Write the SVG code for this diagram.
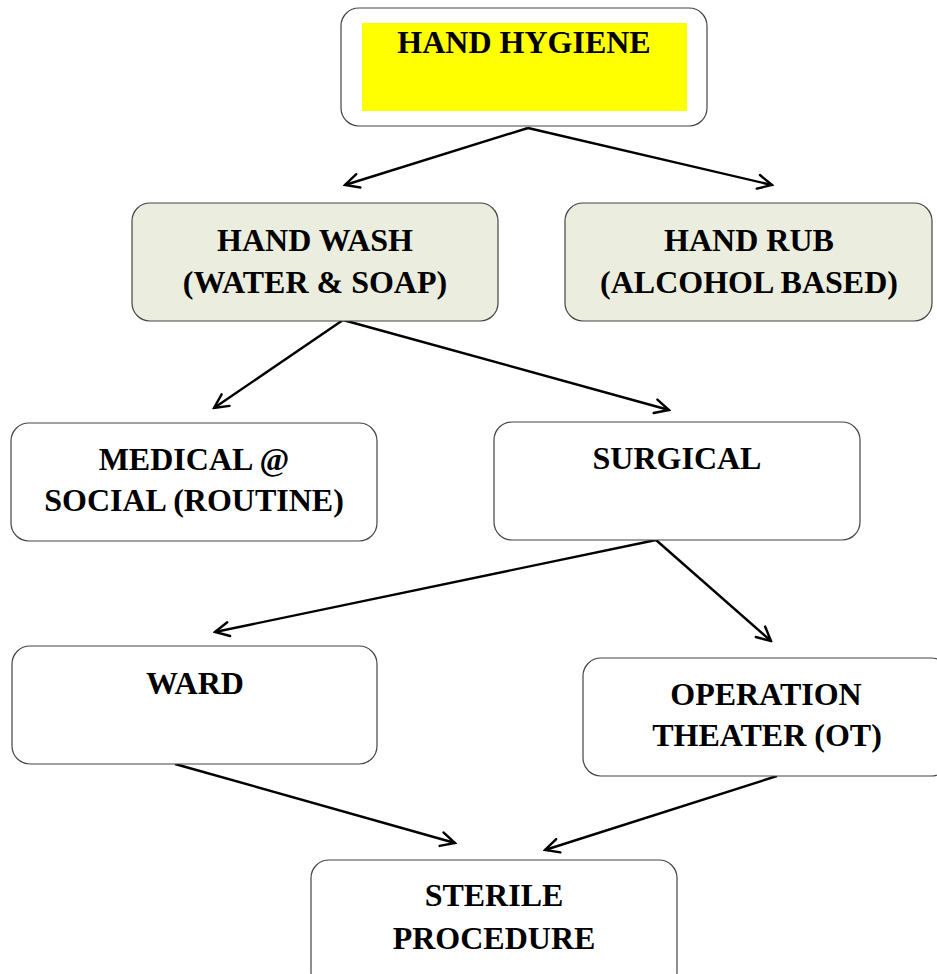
<svg xmlns="http://www.w3.org/2000/svg" width="937" height="974" viewBox="0 0 937 974">
<defs>
<style>
.box{fill:#ffffff;stroke:#444444;stroke-width:1.2}
.green{fill:#ebeedf}
.t{font-family:"Liberation Serif","Times New Roman",serif;font-weight:bold;font-size:32px;fill:#000;text-anchor:middle}
.c{stroke:#000;stroke-width:2.4;fill:none}
</style>
<marker id="ah" markerUnits="userSpaceOnUse" markerWidth="18" markerHeight="18" viewBox="0 0 18 18" refX="16" refY="9" orient="auto">
<path d="M2,2 L16,9 L2,16" fill="none" stroke="#000" stroke-width="2.4" stroke-linecap="round" stroke-linejoin="miter"/>
</marker>
</defs>
<rect width="937" height="974" fill="#ffffff"/>
<g id="connectors">
<line class="c" x1="528" y1="128" x2="345" y2="185" marker-end="url(#ah)"/>
<line class="c" x1="528" y1="128" x2="772" y2="185" marker-end="url(#ah)"/>
<line class="c" x1="343" y1="320" x2="214" y2="408" marker-end="url(#ah)"/>
<line class="c" x1="343" y1="320" x2="669" y2="410" marker-end="url(#ah)"/>
<line class="c" x1="656" y1="540" x2="215" y2="632" marker-end="url(#ah)"/>
<line class="c" x1="656" y1="540" x2="771" y2="641" marker-end="url(#ah)"/>
<line class="c" x1="175" y1="764" x2="455" y2="843" marker-end="url(#ah)"/>
<line class="c" x1="777" y1="776" x2="545" y2="850" marker-end="url(#ah)"/>
</g>
<g id="hand-hygiene">
<rect class="box" x="341" y="8" width="366" height="118" rx="18"/>
<rect x="362" y="23" width="325" height="88" fill="#ffff00"/>
<text class="t" x="524" y="53">HAND HYGIENE</text>
</g>
<g id="hand-wash">
<rect class="box green" x="132" y="203" width="366" height="118" rx="18"/>
<text class="t" x="315" y="251">HAND WASH</text>
<text class="t" x="315" y="293">(WATER &amp; SOAP)</text>
</g>
<g id="hand-rub">
<rect class="box green" x="565" y="203" width="367" height="118" rx="18"/>
<text class="t" x="749" y="251">HAND RUB</text>
<text class="t" x="749" y="293">(ALCOHOL BASED)</text>
</g>
<g id="medical">
<rect class="box" x="11" y="423" width="366" height="118" rx="18"/>
<text class="t" x="194" y="470">MEDICAL @</text>
<text class="t" x="194" y="511">SOCIAL (ROUTINE)</text>
</g>
<g id="surgical">
<rect class="box" x="494" y="422" width="366" height="118" rx="18"/>
<text class="t" x="677" y="469">SURGICAL</text>
</g>
<g id="ward">
<rect class="box" x="12" y="646" width="365" height="118" rx="18"/>
<text class="t" x="195" y="694">WARD</text>
</g>
<g id="operation-theater">
<rect class="box" x="583" y="658" width="366" height="118" rx="18"/>
<text class="t" x="766" y="705">OPERATION</text>
<text class="t" x="767" y="746">THEATER (OT)</text>
</g>
<g id="sterile-procedure">
<rect class="box" x="311" y="860" width="366" height="130" rx="18"/>
<text class="t" x="494" y="906">STERILE</text>
<text class="t" x="494" y="949">PROCEDURE</text>
</g>
</svg>
